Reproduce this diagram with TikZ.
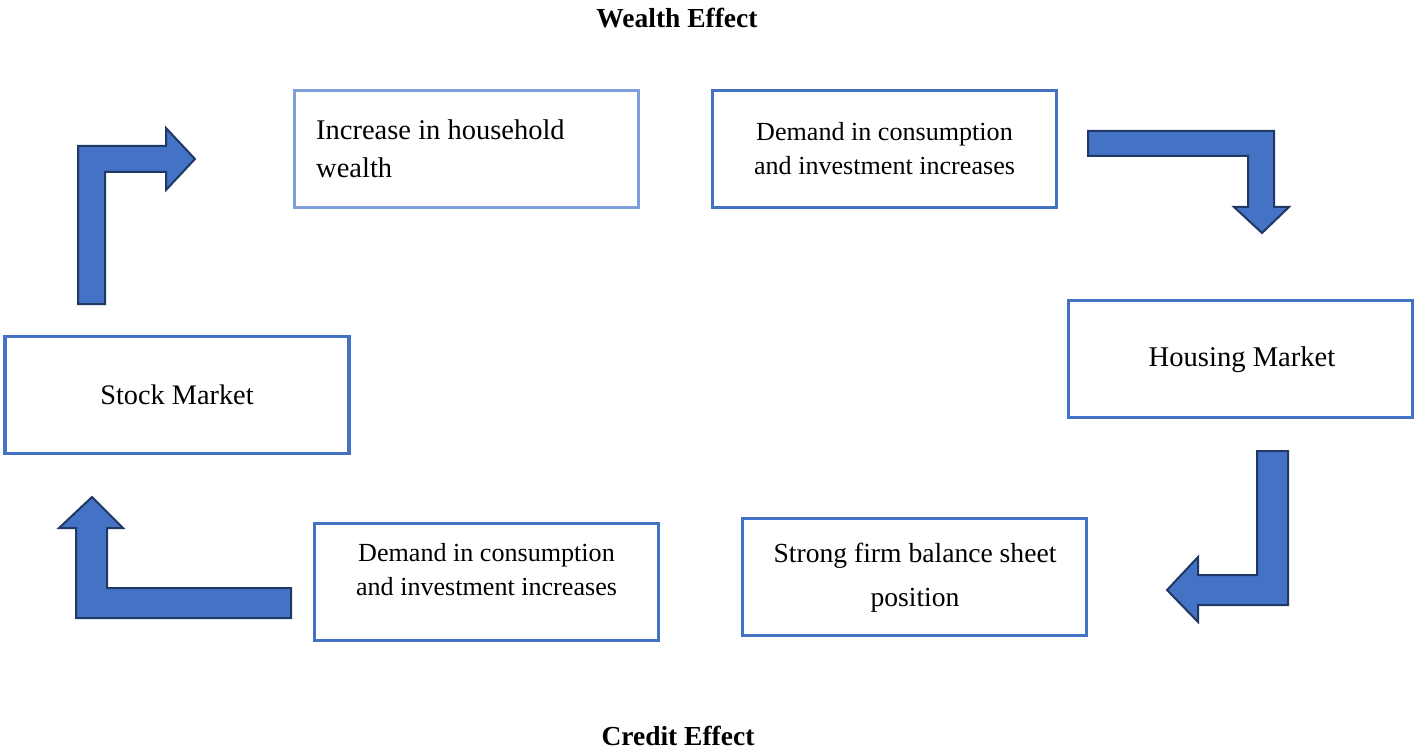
\documentclass[tikz,border=0pt]{standalone}
\usepackage{fontspec}
\setmainfont{Liberation Serif}
\definecolor{boxblue}{HTML}{4472C4}
\definecolor{lightblue}{HTML}{7F9FD8}
\definecolor{navy}{HTML}{1F3864}
\begin{document}
\begin{tikzpicture}[x=1pt,y=-1pt,
  box/.style={draw=boxblue, line width=3.5pt, fill=white, minimum width=344pt, minimum height=117pt, inner sep=0pt},
  lightbox/.style={box, draw=lightblue},
  txt/.style={align=center, inner sep=0pt},
  head/.style={font=\fontsize{27.5}{30}\selectfont\bfseries, inner sep=0pt},
  blockarrow/.style={fill=boxblue, draw=navy, line width=2pt, line join=miter}]
\useasboundingbox (0,0) rectangle (1415,751);

% titles
\node[head] (wealth) at (677,18) {Wealth Effect};
\node[head] (credit) at (678,736) {Credit Effect};

% boxes
\node[lightbox] (house) at (466.5,149) {};
\node[txt, align=left, anchor=west, font=\fontsize{28.5}{38}\selectfont] (houset) at (316,149) {Increase in household\\wealth};

\node[box] (demtop) at (884.5,149) {};
\node[txt, font=\fontsize{26.1}{34}\selectfont] (demtopt) at (884.5,149) {Demand in consumption\\and investment increases};

\node[box] (housing) at (1240.5,359) {};
\node[txt, font=\fontsize{28.6}{34}\selectfont] (housingt) at (1242,360) {Housing Market};

\node[box] (stock) at (177,395) {};
\node[txt, font=\fontsize{28.3}{34}\selectfont] (stockt) at (177,395) {Stock Market};

\node[box] (firm) at (914.5,577) {};
\node[txt, font=\fontsize{27.6}{44}\selectfont] (firmt) at (915,578) {Strong firm balance sheet\\position};

\node[box] (dembot) at (486.5,582) {};
\node[txt, font=\fontsize{26.1}{34}\selectfont] (dembott) at (486.5,570) {Demand in consumption\\and investment increases};

% block arrows
\draw[blockarrow] (78,304) -- (78,146) -- (166,146) -- (166,128) -- (195,159) -- (166,190) -- (166,172) -- (105,172) -- (105,304) -- cycle;
\draw[blockarrow] (1088,131) -- (1274,131) -- (1274,207) -- (1289,207) -- (1262,233) -- (1234,207) -- (1248,207) -- (1248,156) -- (1088,156) -- cycle;
\draw[blockarrow] (1257,451) -- (1288,451) -- (1288,605) -- (1198,605) -- (1198,622) -- (1167,590) -- (1198,557) -- (1198,575) -- (1257,575) -- cycle;
\draw[blockarrow] (291,588) -- (291,618) -- (76,618) -- (76,528) -- (59,528) -- (92,497) -- (123,528) -- (107,528) -- (107,588) -- cycle;
\end{tikzpicture}
\end{document}
